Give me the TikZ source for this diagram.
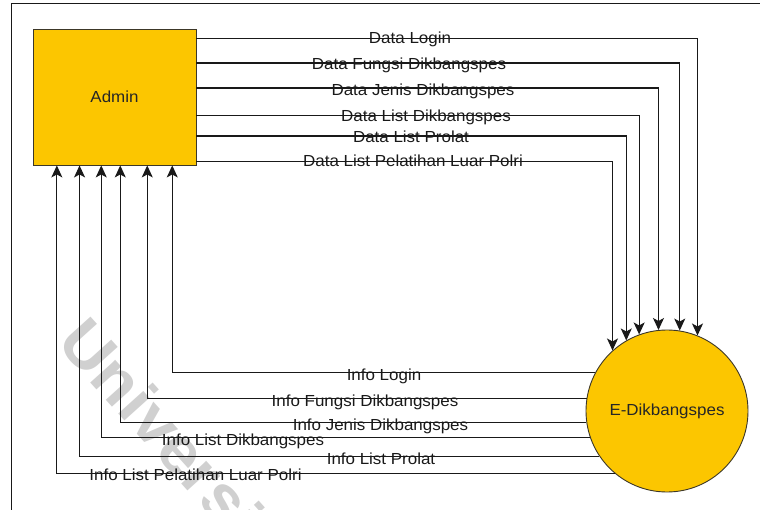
\documentclass[tikz,border=0pt]{standalone}
\usepackage{fontspec}
\setmainfont[FakeStretch=1.06]{Liberation Sans}
\usetikzlibrary{arrows.meta}
\definecolor{dfdyellow}{RGB}{252,198,0}
\definecolor{lineink}{RGB}{25,25,25}
\definecolor{edgeink}{RGB}{60,55,40}
\definecolor{wmark}{RGB}{208,208,208}
\begin{document}
\begin{tikzpicture}[x=1pt,y=-1pt,
  flow/.style={draw=lineink, line width=1.2pt, -{Stealth[length=12pt,width=11pt,inset=3pt]}},
  lbl/.style={anchor=base, inner sep=0pt, font=\fontsize{16}{19}\selectfont, text=lineink},
  entity/.style={draw=edgeink, line width=0.9pt, fill=dfdyellow, inner sep=0pt, font=\fontsize{16}{19}\selectfont, text=black!85},
  watermark/.style={rotate=-48, anchor=west, inner sep=0pt, font=\bfseries\fontsize{64}{70}\selectfont, text=wmark}]
\useasboundingbox (0,0) rectangle (760,510);
\clip (0,0) rectangle (760,510);
% watermark
\node[watermark] (wm) at (72,328) {Universitas};
% frame
\draw[line width=1pt, draw=lineink] (11,515) -- (11,4) -- (765,4);
% entities
\node[entity, minimum width=163pt, minimum height=136pt] (admin) at (114.5,97) {Admin};
\node[entity, circle, minimum size=162pt] (edik) at (667,411) {E-Dikbangspes};
% flows admin -> system
\draw[flow] ([yshift=-10pt]admin.north east) -| (edik.68.0);
\draw[flow] ([yshift=-34.5pt]admin.north east) -| (edik.81.5);
\draw[flow] ([yshift=-59.5pt]admin.north east) -| (edik.96.2);
\draw[flow] ([yshift=-87pt]admin.north east) -| (edik.110.4);
\draw[flow] ([yshift=-107.5pt]admin.north east) -| (edik.120.4);
\draw[flow] ([yshift=-133pt]admin.north east) -| (edik.132.5);
% flows system -> admin
\draw[flow] (edik.152.8) -| ([xshift=139.7pt]admin.south west);
\draw[flow] (edik.171.7) -| ([xshift=114.7pt]admin.south west);
\draw[flow] (edik.188.3) -| ([xshift=87.7pt]admin.south west);
\draw[flow] (edik.199.7) -| ([xshift=68.7pt]admin.south west);
\draw[flow] (edik.214.3) -| ([xshift=47pt]admin.south west);
\draw[flow] (edik.230.3) -| ([xshift=24.3pt]admin.south west);
% labels
\node[lbl] (l1) at (410,43.5) {Data Login};
\node[lbl] (l2) at (409,70) {Data Fungsi Dikbangspes};
\node[lbl] (l3) at (423,95.7) {Data Jenis Dikbangspes};
\node[lbl] (l4) at (426,121.7) {Data List Dikbangspes};
\node[lbl] (l5) at (411,142.3) {Data List Prolat};
\node[lbl] (l6) at (413,166.7) {Data List Pelatihan Luar Polri};
\node[lbl] (r1) at (384,380.7) {Info Login};
\node[lbl] (r2) at (365,406.7) {Info Fungsi Dikbangspes};
\node[lbl] (r3) at (380.5,430) {Info Jenis Dikbangspes};
\node[lbl] (r4) at (243,445) {Info List Dikbangspes};
\node[lbl] (r5) at (381,464) {Info List Prolat};
\node[lbl] (r6) at (195.5,480) {Info List Pelatihan Luar Polri};
\end{tikzpicture}
\end{document}
